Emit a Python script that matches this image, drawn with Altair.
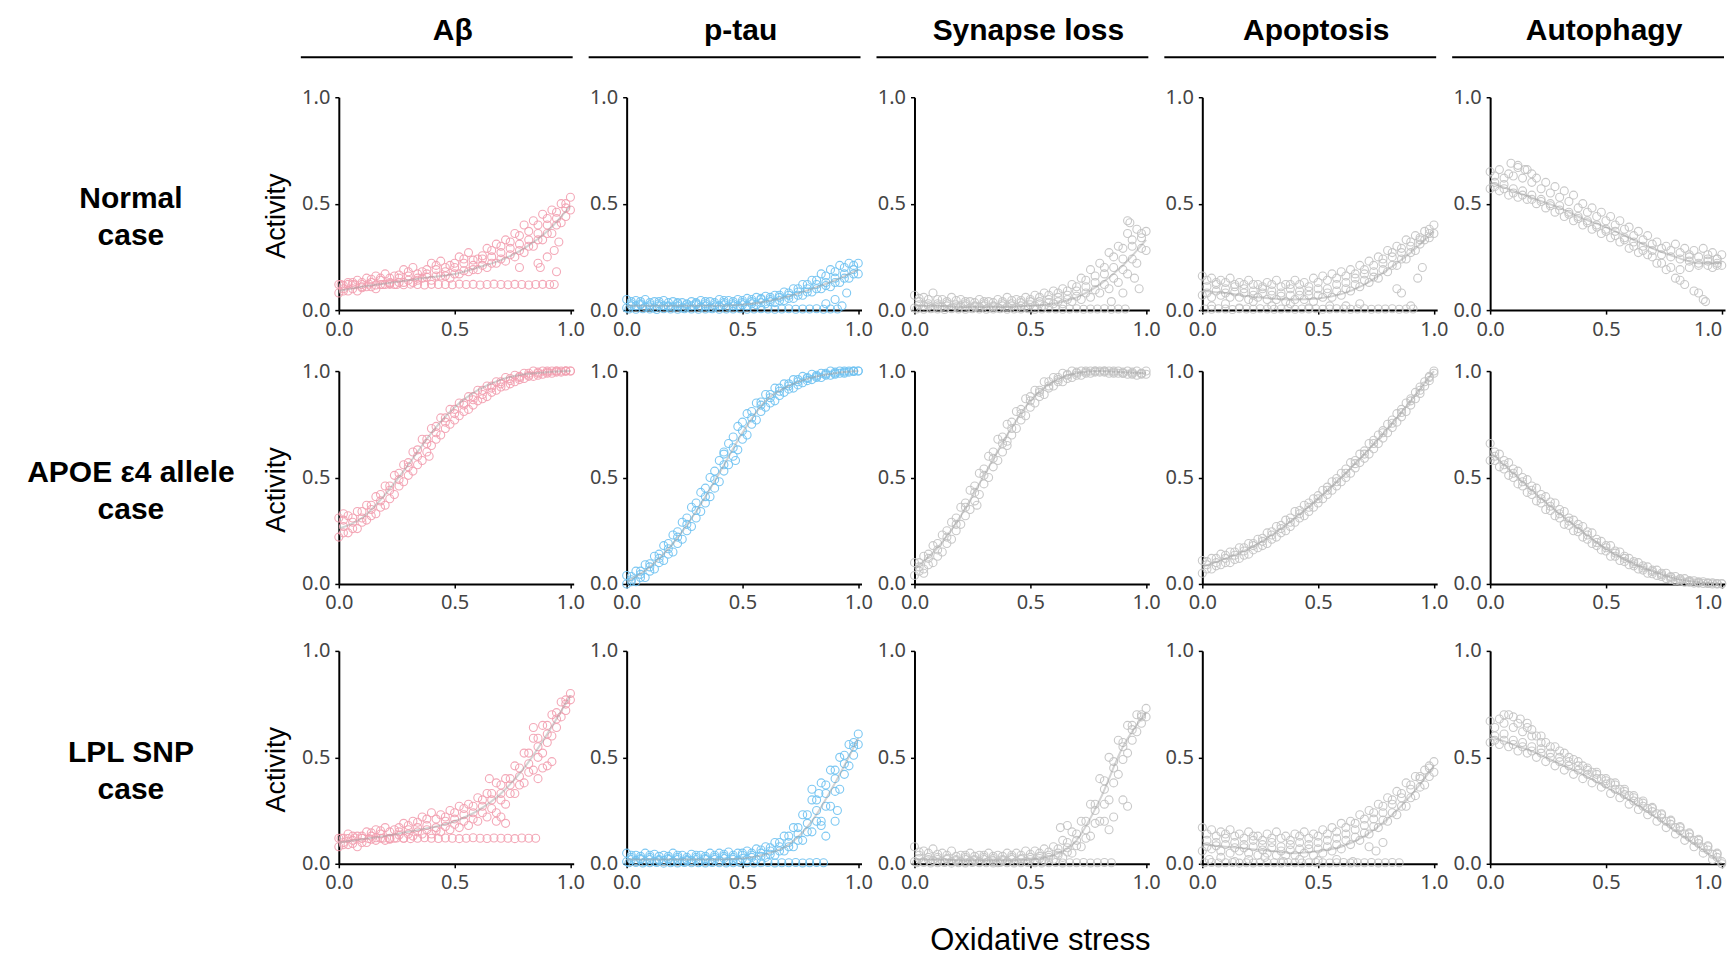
import altair as alt
import pandas as pd

# ---------------- shared x positions ----------------
XA = [0.00, 0.04, 0.08, 0.12, 0.16, 0.20, 0.24, 0.28, 0.32, 0.36, 0.40, 0.44, 0.48,
      0.52, 0.56, 0.60, 0.64, 0.68, 0.72, 0.76, 0.80, 0.84, 0.88, 0.92, 0.96, 1.00]
XB = [0.02, 0.06, 0.10, 0.14, 0.18, 0.22, 0.26, 0.30, 0.34, 0.38, 0.42, 0.46, 0.50,
      0.54, 0.58, 0.62, 0.66, 0.70, 0.74, 0.78, 0.82, 0.86, 0.90, 0.94, 0.98]
XT = [0.0, 0.1, 0.2, 0.3, 0.4, 0.5, 0.6, 0.7, 0.8, 0.9, 1.0]
BAND_XA = [0.01, 0.04, 0.07, 0.10, 0.13, 0.16, 0.19, 0.22, 0.25, 0.28, 0.31, 0.34, 0.37, 0.40,
           0.43, 0.46, 0.49, 0.52, 0.55, 0.58, 0.61, 0.64, 0.67, 0.70, 0.73, 0.76, 0.79, 0.82,
           0.85, 0.88, 0.91]
BAND_XB = [0.01, 0.04, 0.07, 0.10, 0.13, 0.16, 0.19, 0.22, 0.25, 0.28, 0.31, 0.34, 0.37, 0.40,
           0.43, 0.46, 0.49, 0.52, 0.55, 0.58, 0.61, 0.64, 0.67, 0.70, 0.73, 0.76, 0.79, 0.82,
           0.85]
AB_BAND_A = [0.12, 0.121, 0.119, 0.12, 0.122, 0.118, 0.12, 0.121, 0.12, 0.119, 0.122, 0.12, 0.118,
             0.121, 0.12, 0.12, 0.119, 0.122, 0.12, 0.121, 0.118, 0.12, 0.122, 0.12, 0.119, 0.121,
             0.12, 0.118, 0.12, 0.121, 0.12]
AB_BAND_B = [0.12, 0.119, 0.121, 0.12, 0.118, 0.122, 0.12, 0.119, 0.121, 0.12, 0.118, 0.12, 0.122,
             0.12, 0.119, 0.121, 0.12, 0.118, 0.12, 0.122, 0.12, 0.119, 0.121, 0.12, 0.12, 0.118,
             0.121, 0.12, 0.12]
LOW_BAND_A = [0.005, 0.004, 0.006, 0.005, 0.003, 0.006, 0.005, 0.004, 0.006, 0.005, 0.004, 0.005,
              0.006, 0.004, 0.005, 0.005, 0.006, 0.004, 0.005, 0.006, 0.005, 0.004, 0.005, 0.006,
              0.004, 0.005, 0.005, 0.006, 0.004, 0.005, 0.005]
LOW_BAND_B = [0.005, 0.006, 0.004, 0.005, 0.006, 0.003, 0.005, 0.004, 0.006, 0.005, 0.005, 0.004,
              0.006, 0.005, 0.004, 0.005, 0.006, 0.005, 0.004, 0.005, 0.006, 0.004, 0.005, 0.005,
              0.006, 0.004, 0.005, 0.006, 0.005]

# ---------------- Normal case ----------------
nrm_ab_hi = [.12, .13, .14, .15, .16, .17, .16, .19, .20, .18, .22, .23, .21, .25, .27, .24, .29, .31, .33, .36, .40, .42, .45, .47, .50, .53]
nrm_ab_lo = [.08, .09, .09, .11, .10, .12, .12, .13, .13, .15, .14, .16, .15, .17, .18, .19, .20, .22, .23, .25, .27, .30, .33, .36, .41, .47]
nrm_ab_mid = [.10, .12, .11, .13, .14, .13, .15, .16, .15, .17, .19, .18, .20, .22, .21, .24, .25, .27, .29, .31, .33, .36, .40, .43, .48]
nrm_ab_up = [.115, .13, .13, .145, .15, .15, .165, .18, .17, .19, .21, .20, .22, .24, .235, .255, .28, .30, .32, .35, .37, .40, .43, .46, .50]
nrm_ab_dn = [.09, .10, .105, .11, .12, .125, .13, .14, .14, .155, .16, .16, .17, .185, .19, .21, .22, .24, .26, .28, .30, .33, .36, .40, .44]
nrm_ab_trend = [.09, .11, .125, .14, .155, .17, .20, .235, .29, .37, .49]
nrm_ab_ex_x = [0.78, 0.86, 0.87, 0.90, 0.93, 0.94, 0.95, 0.93]
nrm_ab_ex_y = [0.20, 0.22, 0.20, 0.25, 0.28, 0.18, 0.32, 0.12]

nrm_tau_hi = [.05, .045, .05, .04, .045, .04, .035, .04, .045, .04, .05, .045, .05, .055, .06, .065, .07, .085, .10, .12, .14, .17, .19, .21, .22, .22]
nrm_tau_lo = [.01, .02, .015, .01, .02, .015, .01, .02, .015, .01, .02, .015, .02, .02, .025, .03, .035, .045, .055, .07, .085, .10, .11, .13, .15, .17]
nrm_tau_mid = [.03, .03, .025, .03, .02, .03, .025, .03, .03, .025, .035, .03, .035, .04, .05, .05, .06, .07, .085, .10, .12, .13, .15, .17, .19]
nrm_tau_up = [.04, .04, .035, .04, .035, .035, .03, .035, .04, .035, .045, .04, .045, .05, .055, .06, .07, .08, .10, .12, .14, .16, .18, .20, .21]
nrm_tau_dn = [.02, .025, .015, .02, .015, .02, .015, .025, .02, .015, .025, .02, .025, .03, .035, .04, .045, .055, .07, .085, .10, .115, .13, .15, .17]
nrm_tau_trend = [.02, .02, .02, .02, .02, .025, .04, .065, .10, .14, .19]
nrm_tau_ex_x = [0.86, 0.90, 0.93, 0.95]
nrm_tau_ex_y = [0.03, 0.05, 0.02, 0.08]

nrm_syn_hi = [.07, .06, .08, .05, .06, .05, .04, .05, .04, .05, .06, .05, .06, .07, .08, .09, .10, .12, .15, .19, .22, .27, .30, .36, .38, .37]
nrm_syn_lo = [.01, .02, .01, .015, .01, .02, .01, .015, .01, .01, .015, .01, .015, .02, .02, .03, .03, .04, .05, .06, .08, .10, .13, .17, .22, .28]
nrm_syn_mid = [.04, .03, .03, .03, .025, .03, .02, .03, .02, .03, .03, .035, .04, .04, .05, .06, .07, .09, .11, .13, .17, .20, .24, .30, .34]
nrm_syn_up = [.055, .05, .05, .04, .045, .04, .035, .04, .035, .04, .045, .045, .05, .06, .07, .08, .09, .11, .14, .16, .20, .25, .29, .33, .36]
nrm_syn_dn = [.025, .02, .02, .02, .015, .02, .015, .02, .015, .02, .02, .02, .025, .03, .035, .04, .05, .065, .08, .095, .12, .15, .19, .24, .29]
nrm_syn_trend = [.02, .02, .015, .015, .015, .02, .03, .06, .12, .21, .33]
nrm_syn_ex_x = [0.92, 0.93, 0.95, 0.90, 0.97, 0.85]
nrm_syn_ex_y = [0.42, 0.41, 0.15, 0.08, 0.10, 0.04]

nrm_apt_hi = [.16, .15, .14, .15, .13, .14, .12, .13, .14, .12, .14, .13, .15, .16, .17, .18, .19, .21, .23, .25, .28, .30, .33, .35, .37, .40]
nrm_apt_lo = [.07, .06, .07, .06, .06, .05, .06, .05, .05, .04, .05, .05, .04, .06, .06, .07, .09, .11, .13, .15, .18, .21, .24, .28, .33, .36]
nrm_apt_mid = [.11, .12, .10, .11, .10, .09, .10, .09, .08, .10, .09, .09, .10, .10, .12, .13, .15, .17, .18, .22, .25, .27, .30, .33, .36]
nrm_apt_up = [.14, .13, .13, .12, .12, .12, .11, .12, .11, .12, .12, .11, .13, .14, .15, .16, .17, .19, .21, .24, .27, .29, .32, .34, .38]
nrm_apt_dn = [.08, .09, .08, .085, .08, .07, .08, .07, .065, .07, .07, .07, .07, .08, .09, .10, .12, .14, .155, .19, .21, .24, .27, .31, .34]
nrm_apt_trend = [.09, .08, .065, .055, .05, .055, .075, .12, .19, .27, .37]
nrm_apt_ex_x = [0.04, 0.10, 0.16, 0.22, 0.30, 0.38, 0.46, 0.55, 0.62, 0.68, 0.84, 0.86, 0.90, 0.93, 0.95]
nrm_apt_ex_y = [0.02, 0.03, 0.01, 0.04, 0.02, 0.03, 0.01, 0.02, 0.02, 0.03, 0.10, 0.08, 0.02, 0.15, 0.20]

nrm_aut_hi = [.65, .66, .64, .68, .66, .62, .60, .58, .56, .54, .50, .48, .46, .44, .42, .39, .37, .35, .32, .30, .31, .29, .28, .29, .27, .26]
nrm_aut_lo = [.57, .56, .54, .53, .52, .50, .48, .46, .44, .42, .40, .38, .36, .34, .32, .29, .27, .26, .22, .19, .15, .12, .09, .05, .20, .21]
nrm_aut_mid = [.60, .59, .57, .56, .54, .52, .50, .49, .46, .44, .42, .40, .38, .37, .34, .32, .30, .28, .26, .25, .24, .23, .22, .23, .22]
nrm_aut_up = [.63, .62, .63, .62, .60, .57, .55, .53, .51, .48, .46, .44, .42, .40, .38, .35, .33, .31, .29, .28, .27, .26, .25, .26, .24]
nrm_aut_dn = [.58, .57, .55, .54, .52, .51, .49, .47, .45, .43, .41, .39, .37, .35, .33, .30, .28, .25, .22, .20, .19, .20, .21, .21, .21]
nrm_aut_trend = [.60, .56, .52, .48, .43, .39, .34, .29, .25, .22, .22]
nrm_aut_ex_x = [0.09, 0.12, 0.15, 0.18, 0.82, 0.86, 0.90, 0.93, 0.94, 0.98]
nrm_aut_ex_y = [0.69, 0.67, 0.66, 0.64, 0.14, 0.25, 0.08, 0.04, 0.24, 0.24]

# ---------------- APOE e4 allele case ----------------
apo_ab_hi = [.31, .32, .34, .37, .41, .46, .51, .56, .62, .68, .73, .78, .82, .85, .88, .91, .93, .95, .97, .98, .99, 1.0, 1.0, 1.0, 1.0, 1.0]
apo_ab_lo = [.22, .24, .26, .30, .33, .37, .42, .48, .53, .58, .65, .70, .75, .79, .82, .86, .88, .91, .93, .95, .965, .975, .985, .99, .995, 1.0]
apo_ab_mid = [.27, .29, .31, .35, .39, .44, .49, .55, .60, .66, .71, .76, .80, .84, .865, .89, .92, .94, .955, .97, .98, .99, .995, 1.0, 1.0]
apo_ab_up = [.30, .31, .34, .37, .42, .46, .52, .57, .63, .68, .74, .78, .82, .85, .88, .91, .93, .95, .965, .975, .99, .995, 1.0, 1.0, 1.0]
apo_ab_dn = [.24, .26, .29, .32, .36, .40, .46, .51, .56, .62, .68, .73, .77, .81, .84, .87, .90, .925, .94, .96, .975, .98, .99, .995, 1.0]
apo_ab_trend = [.26, .31, .42, .56, .71, .83, .91, .96, .985, .995, 1.0]
apo_ab_ex_x = [0.39, 0.02]
apo_ab_ex_y = [0.60, 0.33]

apo_tau_hi = [.04, .06, .09, .13, .18, .23, .29, .36, .43, .50, .58, .66, .74, .80, .85, .89, .92, .94, .96, .975, .985, .99, 1.0, 1.0, 1.0, 1.0]
apo_tau_lo = [0.0, .01, .03, .07, .11, .15, .21, .27, .34, .41, .48, .56, .63, .70, .77, .83, .86, .90, .92, .945, .96, .97, .98, .99, .995, 1.0]
apo_tau_mid = [.02, .045, .08, .12, .165, .22, .28, .345, .41, .49, .56, .64, .72, .78, .84, .875, .905, .93, .95, .965, .975, .985, .99, .995, 1.0]
apo_tau_up = [.035, .06, .095, .14, .19, .245, .31, .38, .45, .53, .61, .69, .76, .81, .855, .89, .92, .94, .96, .97, .98, .99, .995, 1.0, 1.0]
apo_tau_dn = [.01, .03, .06, .10, .14, .19, .25, .31, .38, .45, .53, .60, .68, .75, .81, .85, .885, .915, .935, .955, .97, .98, .985, .99, .998]
apo_tau_trend = [.01, .08, .19, .34, .52, .71, .86, .93, .97, .99, 1.0]
apo_tau_ex_x = [0.42, 0.47]
apo_tau_ex_y = [0.62, 0.58]

apo_syn_hi = [.10, .13, .18, .23, .29, .36, .44, .52, .60, .68, .75, .81, .87, .91, .95, .97, .99, 1.0, 1.0, 1.0, 1.0, 1.0, 1.0, 1.0, 1.0, 1.0]
apo_syn_lo = [.04, .07, .10, .15, .21, .28, .35, .42, .50, .58, .65, .73, .79, .85, .89, .93, .95, .97, .98, .99, .995, .99, .99, .985, .98, .985]
apo_syn_mid = [.08, .12, .16, .22, .28, .36, .43, .51, .59, .66, .73, .80, .86, .90, .93, .96, .98, .99, .995, 1.0, 1.0, .995, .99, .99, .99]
apo_syn_up = [.10, .14, .19, .25, .31, .38, .46, .54, .62, .69, .76, .82, .88, .91, .95, .97, .985, .995, 1.0, 1.0, 1.0, 1.0, .995, .995, .99]
apo_syn_dn = [.06, .09, .13, .19, .25, .32, .39, .47, .55, .62, .70, .77, .83, .88, .92, .95, .965, .98, .99, .995, .995, .99, .99, .985, .985]
apo_syn_trend = [.07, .17, .32, .51, .70, .86, .95, .99, 1.0, .995, .99]
apo_syn_ex_x = [0.27, 0.40, 0.04]
apo_syn_ex_y = [0.37, 0.67, 0.05]

apo_apt_hi = [.11, .12, .14, .15, .17, .19, .21, .24, .27, .30, .34, .37, .40, .44, .48, .52, .57, .61, .66, .70, .75, .80, .85, .90, .95, 1.0]
apo_apt_lo = [.05, .07, .09, .10, .12, .14, .17, .19, .22, .25, .29, .32, .36, .40, .44, .48, .52, .57, .61, .66, .71, .76, .81, .87, .93, .99]
apo_apt_mid = [.09, .10, .12, .135, .155, .18, .20, .23, .26, .29, .33, .36, .40, .44, .48, .52, .565, .61, .66, .71, .755, .805, .86, .91, .97]
apo_apt_up = [.105, .12, .135, .15, .17, .19, .215, .245, .275, .31, .345, .38, .415, .455, .495, .54, .58, .625, .675, .72, .77, .82, .87, .925, .975]
apo_apt_dn = [.07, .085, .10, .115, .135, .16, .18, .21, .24, .27, .31, .34, .38, .42, .46, .50, .545, .59, .635, .685, .735, .785, .84, .895, .955]
apo_apt_trend = [.08, .12, .165, .23, .31, .40, .50, .61, .73, .86, 1.0]

apo_aut_hi = [.66, .61, .57, .53, .49, .45, .41, .38, .34, .30, .27, .24, .20, .18, .15, .12, .10, .08, .065, .05, .035, .025, .015, .01, .005, .002]
apo_aut_lo = [.58, .55, .51, .47, .43, .39, .35, .32, .28, .25, .22, .19, .16, .13, .11, .09, .07, .05, .04, .025, .015, .008, .004, .002, 0.0, 0.0]
apo_aut_mid = [.60, .56, .52, .48, .44, .40, .365, .33, .295, .26, .23, .195, .17, .145, .12, .095, .075, .058, .043, .03, .02, .012, .007, .003, .001]
apo_aut_up = [.62, .58, .54, .50, .46, .42, .385, .35, .31, .28, .245, .21, .18, .155, .13, .105, .085, .065, .05, .035, .025, .016, .01, .005, .002]
apo_aut_dn = [.58, .54, .50, .46, .42, .38, .345, .31, .275, .245, .21, .18, .155, .13, .105, .085, .065, .048, .035, .022, .014, .008, .004, .002, .0]
apo_aut_trend = [.62, .52, .42, .33, .245, .165, .105, .06, .025, .008, 0.0]

# ---------------- LPL SNP case ----------------
lpl_ab_hi = [.12, .14, .13, .15, .16, .17, .16, .19, .20, .22, .24, .23, .25, .27, .28, .31, .33, .38, .40, .46, .52, .59, .65, .70, .76, .80]
lpl_ab_lo = [.08, .09, .08, .10, .11, .11, .12, .12, .13, .14, .14, .15, .16, .17, .18, .20, .22, .24, .28, .33, .38, .44, .52, .60, .69, .77]
lpl_ab_mid = [.10, .11, .12, .13, .14, .12, .15, .16, .17, .18, .17, .20, .21, .23, .24, .27, .30, .33, .37, .41, .47, .55, .61, .68, .75]
lpl_ab_up = [.12, .13, .13, .145, .155, .15, .17, .18, .195, .21, .21, .22, .24, .26, .27, .30, .33, .37, .40, .45, .52, .59, .65, .71, .77]
lpl_ab_dn = [.09, .095, .10, .115, .12, .115, .135, .14, .15, .16, .155, .175, .185, .20, .21, .24, .26, .30, .33, .37, .43, .50, .57, .64, .72]
lpl_ab_trend = [.10, .115, .13, .15, .17, .20, .25, .33, .45, .61, .79]
lpl_ab_ex_x = [0.68, 0.70, 0.72, 0.86, 0.88, 0.90, 0.92, 0.84, 0.65]
lpl_ab_ex_y = [0.20, 0.22, 0.19, 0.40, 0.45, 0.46, 0.48, 0.64, 0.40]

lpl_tau_hi = [.05, .04, .05, .045, .04, .05, .04, .045, .04, .05, .05, .055, .05, .06, .07, .08, .10, .13, .17, .23, .30, .38, .44, .50, .56, .61]
lpl_tau_lo = [.01, .015, .01, .01, .015, .01, .01, .015, .01, .01, .015, .01, .015, .02, .02, .03, .04, .06, .08, .11, .15, .20, .27, .35, .46, .56]
lpl_tau_mid = [.03, .025, .03, .02, .025, .03, .02, .03, .025, .03, .035, .03, .04, .04, .05, .06, .08, .10, .14, .19, .25, .33, .40, .47, .55]
lpl_tau_up = [.04, .035, .04, .035, .035, .04, .03, .04, .035, .04, .045, .04, .05, .05, .065, .075, .10, .13, .17, .23, .30, .37, .44, .51, .57]
lpl_tau_dn = [.02, .02, .02, .015, .02, .02, .015, .02, .02, .02, .025, .02, .025, .03, .035, .045, .06, .08, .11, .15, .20, .27, .34, .42, .51]
lpl_tau_trend = [.02, .02, .02, .02, .02, .025, .045, .09, .20, .38, .59]
lpl_tau_ex_x = [0.84, 0.86, 0.90, 0.91, 0.80, 0.83]
lpl_tau_ex_y = [0.18, 0.13, 0.20, 0.25, 0.35, 0.33]

lpl_syn_hi = [.08, .06, .07, .05, .06, .04, .05, .04, .05, .04, .05, .05, .06, .06, .07, .08, .11, .15, .20, .28, .40, .50, .58, .65, .70, .73]
lpl_syn_lo = [.01, .01, .015, .01, .01, .01, .01, .01, .01, .005, .01, .01, .01, .01, .015, .02, .03, .05, .08, .13, .20, .30, .42, .52, .62, .69]
lpl_syn_mid = [.04, .03, .03, .025, .02, .03, .02, .03, .025, .02, .03, .025, .03, .035, .04, .05, .075, .11, .16, .25, .35, .45, .55, .63, .69]
lpl_syn_up = [.055, .05, .045, .04, .035, .04, .035, .04, .035, .035, .04, .04, .045, .05, .055, .07, .10, .14, .20, .28, .39, .48, .57, .65, .70]
lpl_syn_dn = [.025, .02, .02, .02, .015, .02, .015, .02, .015, .015, .02, .02, .02, .025, .03, .04, .055, .085, .12, .19, .28, .38, .49, .58, .66]
lpl_syn_trend = [.02, .02, .015, .015, .015, .02, .04, .11, .30, .55, .71]
lpl_syn_ex_x = [0.82, 0.84, 0.86, 0.90, 0.92, 0.63, 0.66]
lpl_syn_ex_y = [0.20, 0.16, 0.22, 0.30, 0.27, 0.17, 0.18]

lpl_apt_hi = [.17, .16, .15, .16, .14, .15, .13, .14, .15, .13, .14, .15, .14, .16, .17, .19, .20, .23, .25, .28, .31, .34, .38, .41, .44, .48]
lpl_apt_lo = [.06, .07, .06, .05, .06, .05, .04, .05, .04, .04, .04, .05, .04, .05, .06, .07, .09, .11, .14, .17, .20, .23, .27, .32, .37, .43]
lpl_apt_mid = [.11, .10, .12, .10, .09, .11, .09, .10, .08, .09, .10, .09, .10, .11, .12, .14, .16, .18, .21, .24, .28, .31, .35, .40, .45]
lpl_apt_up = [.14, .13, .14, .13, .12, .13, .11, .12, .12, .11, .13, .12, .13, .14, .15, .17, .19, .21, .24, .27, .30, .33, .37, .41, .46]
lpl_apt_dn = [.08, .085, .09, .075, .075, .08, .065, .075, .06, .065, .07, .07, .07, .08, .09, .11, .125, .145, .175, .205, .24, .27, .31, .36, .41]
lpl_apt_trend = [.09, .08, .07, .06, .05, .06, .08, .13, .21, .32, .46]
lpl_apt_ex_x = [0.03, 0.08, 0.14, 0.20, 0.27, 0.35, 0.42, 0.50, 0.58, 0.65, 0.72, 0.75, 0.78]
lpl_apt_ex_y = [0.02, 0.03, 0.01, 0.02, 0.03, 0.01, 0.02, 0.015, 0.02, 0.01, 0.08, 0.06, 0.10]

lpl_aut_hi = [.67, .68, .70, .66, .64, .60, .57, .55, .52, .49, .46, .43, .40, .38, .35, .32, .29, .26, .235, .20, .17, .14, .11, .075, .045, .01]
lpl_aut_lo = [.57, .56, .55, .53, .52, .50, .48, .46, .44, .42, .40, .38, .36, .33, .31, .28, .255, .23, .20, .17, .14, .11, .08, .05, .02, .0]
lpl_aut_mid = [.60, .61, .58, .57, .55, .54, .52, .50, .48, .46, .44, .42, .39, .37, .34, .31, .285, .26, .23, .20, .17, .14, .11, .08, .045]
lpl_aut_up = [.64, .66, .64, .62, .60, .57, .55, .53, .50, .48, .45, .43, .40, .38, .35, .32, .295, .265, .235, .205, .175, .145, .115, .085, .05]
lpl_aut_dn = [.58, .58, .56, .55, .53, .52, .50, .48, .46, .44, .42, .40, .375, .35, .325, .295, .27, .245, .215, .185, .155, .125, .095, .065, .03]
lpl_aut_trend = [.60, .56, .52, .47, .42, .36, .30, .23, .155, .08, .0]
lpl_aut_ex_x = [0.06, 0.10, 0.13, 0.16, 0.18, 0.22]
lpl_aut_ex_y = [0.70, 0.69, 0.68, 0.66, 0.63, 0.60]

# ---------------- labels / colours ----------------
row_keys = ["nrm", "apo", "lpl"]
row_labels = ["Normal\ncase", "APOE ε4 allele\ncase", "LPL SNP\ncase"]
col_keys = ["ab", "tau", "syn", "apt", "aut"]
col_titles = ["Aβ", "p-tau", "Synapse loss", "Apoptosis", "Autophagy"]
col_colors = ["#F3A0B1", "#70C3F2", "#C4C4C4", "#C4C4C4", "#C4C4C4"]
tick_values = [0.0, 0.5, 1.0]

g = globals()
bands = {
    ("nrm", "ab"): (BAND_XA, AB_BAND_A), ("nrm", "tau"): (BAND_XA, LOW_BAND_A),
    ("nrm", "syn"): (BAND_XA, LOW_BAND_A), ("nrm", "apt"): (BAND_XA, LOW_BAND_A),
    ("lpl", "ab"): (BAND_XB, AB_BAND_B), ("lpl", "tau"): (BAND_XB, LOW_BAND_B),
    ("lpl", "syn"): (BAND_XB, LOW_BAND_B), ("lpl", "apt"): (BAND_XB, LOW_BAND_B),
}

pt_rows, tr_rows = [], []
for r in row_keys:
    for c in col_keys:
        key = f"{r}_{c}"
        pairs = [(XA, g[key + "_hi"]), (XA, g[key + "_lo"]), (XB, g[key + "_mid"]),
                 (XB, g[key + "_up"]), (XB, g[key + "_dn"])]
        if (r, c) in bands:
            pairs.append(bands[(r, c)])
        if key + "_ex_x" in g:
            pairs.append((g[key + "_ex_x"], g[key + "_ex_y"]))
        for xs, ys in pairs:
            for xv, yv in zip(xs, ys):
                pt_rows.append({"p": key, "x": xv, "y": yv})
        for xv, yv in zip(XT, g[key + "_trend"]):
            tr_rows.append({"p": key, "x": xv, "y": yv})

pts_df = pd.DataFrame(pt_rows)
tr_df = pd.DataFrame(tr_rows)

PW, PH = 235, 213
XDOM = [0, 1.014]
FONT = "Liberation Sans"


def panel(key, color, last):
    if last:
        xaxis = alt.Axis(values=tick_values, format=".1f", title=None, labelFlush=False,
                         labelAlign={"condition": {"test": "datum.value >= 1", "value": "right"},
                                     "value": "center"})
    else:
        xaxis = alt.Axis(values=tick_values, format=".1f", title=None, labelFlush=False)
    xe = alt.X("x:Q", scale=alt.Scale(domain=XDOM, nice=False, zero=False), axis=xaxis)
    ye = alt.Y("y:Q", scale=alt.Scale(domain=[0, 1], nice=False),
               axis=alt.Axis(values=tick_values, format=".1f", title=None))
    pts = alt.Chart(pts_df).transform_filter(alt.datum.p == key).mark_point(
        shape="circle", filled=False, size=64, strokeWidth=1.1, color=color, opacity=0.9
    ).encode(x=xe, y=ye)
    line = alt.Chart(tr_df).transform_filter(alt.datum.p == key).mark_line(
        color="#9E9E9E", strokeWidth=2, opacity=0.45, interpolate="monotone"
    ).encode(x=xe, y=ye)
    return alt.layer(pts, line).properties(width=PW, height=PH)


HH = 28


def header(title):
    d = pd.DataFrame({"t": [title]})
    t = alt.Chart(d).mark_text(font=FONT, fontWeight="bold", fontSize=30, align="center",
                               baseline="alphabetic", color="black").encode(
        text="t:N", x=alt.value(114), y=alt.value(32))
    r = alt.Chart(d).mark_rule(color="black", strokeWidth=2).encode(
        x=alt.value(-38), x2=alt.value(234), y=alt.value(49))
    return alt.layer(t, r).properties(width=PW, height=HH)


LW = 278
SPC = 53
spacer_head = alt.Chart(pd.DataFrame({"t": [" "]})).mark_text(baseline="middle").encode(
    text="t:N", x=alt.value(10), y=alt.value(14)).properties(width=LW, height=HH)


def row_label(label, h):
    d = pd.DataFrame({"t": [label], "a": ["Activity"]})
    t = alt.Chart(d).mark_text(font=FONT, fontWeight="bold", fontSize=30, align="center",
                               baseline="middle", lineBreak="\n", lineHeight=37,
                               color="black").encode(
        text="t:N", x=alt.value(123), y=alt.value(102))
    a = alt.Chart(d).mark_text(font=FONT, fontSize=27, align="center", baseline="middle",
                               angle=270, color="black").encode(
        text="a:N", x=alt.value(269), y=alt.value(119))
    return alt.layer(t, a).properties(width=LW, height=h)


row_heights = [PH, 219, PH]
cells = [spacer_head] + [header(t) for t in col_titles]
for r, lab, h in zip(row_keys, row_labels, row_heights):
    cells.append(row_label(lab, h))
    cells += [panel(f"{r}_{c}", col, c == col_keys[-1]) for c, col in zip(col_keys, col_colors)]

xt = alt.Chart(pd.DataFrame({"t": ["Oxidative stress"]})).mark_text(
    font=FONT, fontSize=31, align="center", baseline="middle", color="black"
).encode(text="t:N", x=alt.value(1033), y=alt.value(16)).properties(width=LW, height=30)
cells.append(xt)

chart = alt.concat(*cells, columns=6, spacing={"row": 61, "column": SPC}, bounds="flush").properties(
    padding=0, background="white"
).configure_view(strokeWidth=0).configure_axis(
    grid=False, domainColor="black", domainWidth=2, tickColor="black", tickWidth=1.5,
    tickSize=4, labelFont="Noto Sans", labelFontSize=20, labelColor="#444444",
    labelPadding=5
)

chart.save("out.html", embed_options={"renderer": "svg", "actions": False})
